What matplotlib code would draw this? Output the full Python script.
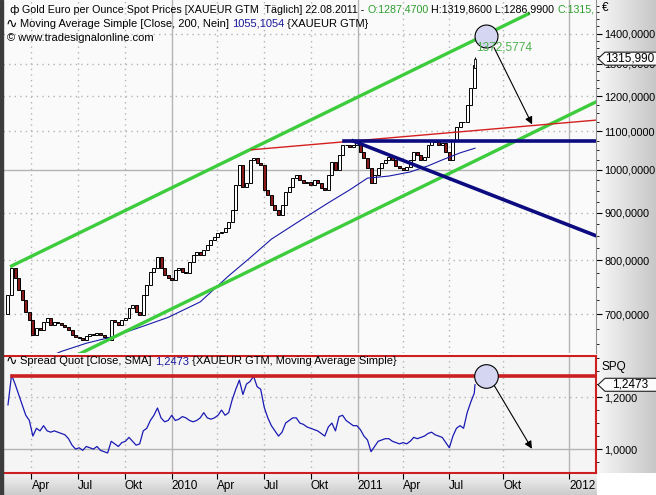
import numpy as np
import pandas as pd
import matplotlib
matplotlib.use('Agg')
import matplotlib.pyplot as plt
from matplotlib.patches import Rectangle, Polygon
from matplotlib.transforms import IdentityTransform

plt.rcParams['font.family'] = ['Liberation Sans', 'DejaVu Sans']
plt.rcParams['font.size'] = 7.8

# ---- data (weekly closes, EUR) ----
week_dates = pd.date_range('2009-02-13', periods=132, freq='W-FRI')
first_open = 700
close = [734, 785, 766, 744, 725, 704, 690, 665, 677, 674,
         687, 694, 682, 687, 685, 682, 679, 674, 665, 662,
         660, 657, 664, 667, 665, 669, 665, 662, 657, 690,
         687, 682, 690, 694, 711, 717, 704, 699, 734, 753,
         777, 785, 807, 785, 772, 766, 762, 781, 785, 777,
         775, 797, 811, 817, 811, 821, 831, 841, 848, 856,
         858, 867, 880, 906, 964, 1012, 959, 968, 1025, 1030,
         1017, 1012, 952, 940, 917, 906, 895, 917, 947, 959,
         980, 988, 976, 968, 970, 964, 976, 968, 957, 952,
         988, 1020, 1000, 1038, 1064, 1064, 1058, 1064, 1069, 1045,
         1030, 1005, 968, 988, 1005, 1017, 1025, 1033, 1025, 1010,
         1005, 1000, 1007, 1025, 1045, 1038, 1025, 1033, 1064, 1077,
         1072, 1064, 1069, 1045, 1025, 1077, 1112, 1126, 1126, 1174,
         1224, 1296]
spread = [1.17, 1.285, 1.25, 1.21, 1.17, 1.13, 1.11, 1.05, 1.08, 1.07,
          1.09, 1.07, 1.065, 1.07, 1.065, 1.06, 1.055, 1.04, 1.015, 1.0,
          1.005, 0.995, 1.01, 1.005, 1.0, 1.01, 0.995, 0.99, 0.985, 1.03,
          1.02, 1.01, 1.025, 1.03, 1.045, 1.03, 1.015, 1.02, 1.07, 1.08,
          1.11, 1.13, 1.158, 1.12, 1.105, 1.11, 1.13, 1.11, 1.115, 1.125,
          1.12, 1.11, 1.105, 1.11, 1.12, 1.14, 1.12, 1.115, 1.12, 1.13,
          1.15, 1.13, 1.14, 1.19, 1.23, 1.265, 1.21, 1.25, 1.26, 1.28,
          1.24, 1.23, 1.16, 1.12, 1.09, 1.07, 1.05, 1.065, 1.10, 1.11,
          1.12, 1.12, 1.10, 1.095, 1.085, 1.08, 1.075, 1.07, 1.06, 1.05,
          1.085, 1.10, 1.07, 1.125, 1.13, 1.11, 1.10, 1.09, 1.09, 1.075,
          1.05, 1.035, 0.99, 1.01, 1.03, 1.035, 1.04, 1.04, 1.03, 1.025,
          1.02, 1.025, 1.02, 1.03, 1.045, 1.04, 1.045, 1.05, 1.06, 1.065,
          1.055, 1.05, 1.045, 1.025, 1.005, 1.05, 1.08, 1.09, 1.08, 1.14,
          1.18, 1.215]

last_date = '2011-08-22'
last_o, last_h, last_l, last_c = 1287.47, 1319.86, 1286.99, 1315.99
last_sma = 1055.1054
last_spread = 1.2473

sma_dates = ['2009-04-10', '2009-05-29', '2009-07-17', '2009-09-04', '2009-10-30',
             '2009-12-25', '2010-02-26', '2010-04-23', '2010-06-04', '2010-07-16',
             '2010-09-10', '2010-11-05', '2010-12-17', '2011-01-21', '2011-03-04',
             '2011-04-15', '2011-05-20', '2011-06-17', '2011-07-22', last_date]
sma = [622, 639, 652, 662, 678, 695, 722, 770, 805, 843,
       882, 922, 952, 980, 985, 995, 1010, 1025, 1043, last_sma]

# drawing tools (date, value)
green_up = (['2009-02-20', '2011-11-05'], [789, 1470])
green_lo = (['2009-06-20', '2012-02-15'], [630, 1190])
red_line = (['2010-06-08', '2012-02-15'], [1051, 1132])
navy_h = (['2010-12-07', '2012-02-15'], [1074, 1074])
navy_d = (['2010-12-24', '2012-02-15'], [1074, 846])
circle_date, circle_val, circle_spq = '2011-09-07', 1392, 1.281
label_date, label_pos, label_val = '2011-08-24', 1354, '1372,5774'
arrow_main = (['2011-09-16', '2011-11-12'], [1361, 1112])
arrow_spq = (['2011-09-16', '2011-11-12'], [1.254, 0.992])
spq_level = (['2009-02-20', '2012-02-15'], [1.281, 1.281])

tick_dates = ['2009-04-01', '2009-07-01', '2009-10-01', '2010-01-01', '2010-04-01',
              '2010-07-01', '2010-10-01', '2011-01-01', '2011-04-01', '2011-07-01',
              '2011-10-01', '2012-01-01']
tick_labels = ['Apr', 'Jul', 'Okt', '2010', 'Apr', 'Jul', 'Okt', '2011', 'Apr', 'Jul',
               'Okt', '2012']
x_range = ['2009-02-04', '2012-02-08']
price_ticks = [700, 800, 900, 1000, 1100, 1200, 1300, 1400]
spq_ticks = [1.0, 1.2]

origin = np.datetime64('2009-01-01')
last = np.datetime64(last_date)


def xpos(dates):
    # trading days up to the last bar, calendar days after it
    d = np.array(pd.to_datetime(dates).values, dtype='datetime64[D]')
    bd = np.busday_count(origin, np.minimum(d, last))
    extra = np.maximum((d - last).astype(int), 0)
    return bd + extra


W, H = 656, 495
fig = plt.figure(figsize=(W / 100, H / 100), dpi=100, facecolor='white')

# gradient strips
rs = fig.add_axes([597 / W, 22 / H, 59 / W, 473 / H], zorder=0)
rs.imshow(np.linspace(0.97, 0.78, 64)[None, :], cmap='gray', vmin=0, vmax=1,
          aspect='auto', extent=(0, 1, 0, 1))
rs.axis('off')
bs = fig.add_axes([0, 0, 597 / W, 22 / H], zorder=0)
bs.imshow(np.linspace(0.95, 0.80, 32)[:, None], cmap='gray', vmin=0, vmax=1,
          aspect='auto', extent=(0, 1, 0, 1))
bs.axis('off')

ax = fig.add_axes([3 / W, (H - 353) / H, 593 / W, 353 / H], zorder=1)
ax2 = fig.add_axes([3 / W, 22 / H, 593 / W, 117 / H], zorder=1)
ax.set_facecolor('#fafafa')
ax2.set_facecolor('#f5f5f5')

xt = xpos(tick_dates)
xl = xpos(x_range)
for a in (ax, ax2):
    a.set_xlim(xl[0], xl[1])
    for xv, lab in zip(xt, tick_labels):
        if lab.isdigit():
            a.axvline(xv, color='#b4b4b4', lw=1, zorder=0)
        else:
            a.axvline(xv, color='#b4b4b4', lw=1, ls=(0, (1, 3)), zorder=0)

# ---- main panel ----
ax.set_yscale('log')
ax.set_ylim(636.5, 1521)
for v in price_ticks:
    if v == 1000:
        ax.axhline(v, color='#b4b4b4', lw=1, zorder=0)
    else:
        ax.axhline(v, color='#b4b4b4', lw=1, ls=(0, (1, 3)), zorder=0)

xw = xpos(week_dates)
c = np.array(close, float)
o = np.array([first_open] + close[:-1], float)
cols = np.where(c >= o, 'white', '#8b1a1a')
ax.bar(xw, c - o, bottom=o, width=4.2, color=cols, edgecolor='black', linewidth=0.7, zorder=3)
xlast = xpos([last_date])[0]
ax.vlines(xlast, last_l, last_h, color='black', lw=0.8, zorder=3)
ax.bar(xlast, last_c - last_o, bottom=last_o, width=1.5, color='white',
       edgecolor='black', linewidth=0.6, zorder=3)

ax.plot(xpos(sma_dates), sma, color='#1a1aa8', lw=0.8, zorder=4)

ax.plot(xpos(green_up[0]), green_up[1], color='#3ccc3c', lw=2.4, zorder=5)
ax.plot(xpos(green_lo[0]), green_lo[1], color='#3ccc3c', lw=2.4, zorder=5)
ax.plot(xpos(red_line[0]), red_line[1], color='#d42020', lw=1.0, zorder=5)
ax.plot(xpos(navy_h[0]), navy_h[1], color='#0c0c80', lw=2.6, zorder=5)
ax.plot(xpos(navy_d[0]), navy_d[1], color='#0c0c80', lw=2.6, zorder=5)

xc = xpos([circle_date])[0]
ax.plot(xc, circle_val, 'o', ms=16.5, mfc='#d4d6f2', mec='black', mew=0.8, zorder=6)
ax.text(xpos([label_date])[0], label_pos, label_val, color='#4cb04c', va='center',
        ha='left', fontsize=8.5, zorder=7)
ax.annotate('', xy=(xpos(arrow_main[0])[1], arrow_main[1][1]),
            xytext=(xpos(arrow_main[0])[0], arrow_main[1][0]),
            arrowprops=dict(arrowstyle='-|>', color='black', lw=0.8, mutation_scale=11),
            zorder=7)

ax.yaxis.tick_right()
ax.set_yticks(price_ticks)
ax.set_yticklabels([f'{v},0000' for v in price_ticks])
ax.set_yticks(np.arange(650, 1525, 25), minor=True)
ax.yaxis.set_minor_formatter(plt.NullFormatter())
ax.tick_params(axis='y', which='major', direction='out', length=4, pad=2, labelsize=7.8)
ax.tick_params(axis='y', which='minor', direction='out', length=2)
ax.tick_params(axis='x', which='both', bottom=False, labelbottom=False)
for s in ('left', 'top', 'bottom'):
    ax.spines[s].set_visible(False)
ax.spines['right'].set_color('#909090')


def chain(a, x, y, parts, clip=False, size=7.8):
    t = a.text(x, y, parts[0][0], color=parts[0][1], transform=a.transAxes,
               va='center', ha='left', zorder=8, fontsize=size)
    items = [t]
    for s, col in parts[1:]:
        t = a.annotate(s, xy=(1, 0), xycoords=t, va='bottom', ha='left', color=col,
                       zorder=8, fontsize=size)
        items.append(t)
    if clip:
        for t in items:
            t.set_clip_box(a.bbox)
            t.set_clip_on(True)


ax.text(6 / 593, 1 - 10 / 353, 'ф', transform=ax.transAxes, va='center', ha='left',
        family='DejaVu Sans', fontsize=8)
chain(ax, 19 / 593, 1 - 10 / 353,
      [('Gold Euro per Ounce Spot Prices [XAUEUR GTM  Täglich] 22.08.2011 - ', 'black'),
       ('O:1287,4700', '#2e9e2e'),
       (' H:1319,8600 L:1286,9900 ', 'black'),
       ('C:1315,', '#2e9e2e')], clip=True, size=7.7)
ax.text(3 / 593, 1 - 24 / 353, '∿', transform=ax.transAxes, va='center', ha='left',
        family='DejaVu Sans', fontsize=10)
chain(ax, 17 / 593, 1 - 24 / 353,
      [('Moving Average Simple [Close, 200, Nein] ', 'black'),
       ('1055,1054', '#1a1a9a'),
       (' {XAUEUR GTM}', 'black')], size=8)
ax.text(4 / 593, 1 - 38 / 353, '© www.tradesignalonline.com', transform=ax.transAxes,
        va='center', ha='left', fontsize=8)

# ---- lower panel ----
ax2.set_ylim(0.908, 1.358)
ax2.axhline(1.0, color='#b4b4b4', lw=1, zorder=0)
ax2.axhline(1.2, color='#b4b4b4', lw=1, ls=(0, (1, 3)), zorder=0)
ax2.plot(np.r_[xw, xlast], spread + [last_spread], color='#1a1ab4', lw=0.9, zorder=3)
ax2.plot(xpos(spq_level[0]), spq_level[1], color='#cc2020', lw=2.6, zorder=4)
ax2.plot(xc, circle_spq, 'o', ms=17, mfc='#d4d6f2', mec='black', mew=0.8, zorder=6)
ax2.annotate('', xy=(xpos(arrow_spq[0])[1], arrow_spq[1][1]),
             xytext=(xpos(arrow_spq[0])[0], arrow_spq[1][0]),
             arrowprops=dict(arrowstyle='-|>', color='black', lw=0.8, mutation_scale=11),
             zorder=7)
ax2.text(3 / 593, 1 - 5 / 117, '∿', transform=ax2.transAxes, va='center', ha='left',
         family='DejaVu Sans', fontsize=10)
chain(ax2, 17 / 593, 1 - 5 / 117,
      [('Spread Quot [Close, SMA] ', 'black'),
       ('1,2473', '#1a1a9a'),
       (' {XAUEUR GTM, Moving Average Simple}', 'black')], size=8)

ax2.yaxis.tick_right()
ax2.set_yticks(spq_ticks)
ax2.set_yticklabels(['1,0000', '1,2000'])
ax2.set_yticks(np.arange(0.95, 1.36, 0.05), minor=True)
ax2.yaxis.set_minor_formatter(plt.NullFormatter())
ax2.tick_params(axis='y', which='major', direction='out', length=4, pad=2, labelsize=7.8)
ax2.tick_params(axis='y', which='minor', direction='out', length=2)
ax2.set_xticks(xt)
ax2.set_xticklabels(tick_labels)
ax2.tick_params(axis='x', direction='out', length=4, pad=1, labelsize=8.5, color='black')
for lbl in ax2.get_xticklabels():
    lbl.set_ha('left')
for s in ax2.spines.values():
    s.set_color('#cc2020')
    s.set_linewidth(1.5)

# left dark strip
fig.add_artist(Rectangle((0, 0), 3, H, transform=IdentityTransform(), color='#3c3c3c', zorder=10))

fig.text(602 / W, 1 - 8 / H, '€', va='center', ha='left', fontsize=8.5)
fig.text(601 / W, 1 - 367 / H, 'SPQ', va='center', ha='left', fontsize=8.5)


def tag(a, val, text):
    y = a.transData.transform((a.get_xlim()[0], val))[1]
    poly = Polygon([(598, y), (605, y + 6.5), (660, y + 6.5), (660, y - 6.5), (605, y - 6.5)],
                   closed=True, transform=IdentityTransform(), fc='#fbfbfb', ec='#202020',
                   lw=0.8, zorder=20)
    fig.add_artist(poly)
    fig.text(630 / W, y / H, text, va='center', ha='center', fontsize=8.5, zorder=21)


tag(ax, last_c, '1315,990')
tag(ax2, last_spread, '1,2473')

fig.savefig('out.png', dpi=100, facecolor='white')
